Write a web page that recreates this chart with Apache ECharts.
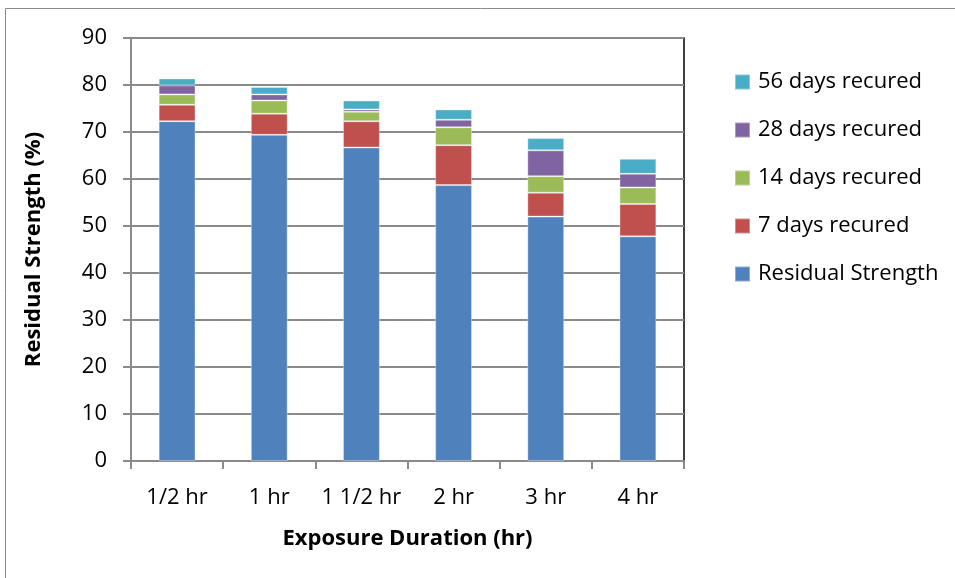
<!DOCTYPE html>
<html>
<head>
<meta charset="utf-8">
<script src="https://cdn.jsdelivr.net/npm/echarts@6/dist/echarts.min.js"></script>
<style>
  html, body { margin: 0; padding: 0; background: #fff; }
  #chart { width: 955px; height: 578px; }
</style>
</head>
<body>
<div id="chart"></div>
<script>
// Exposure duration categories
const categories = ['1/2 hr', '1 hr', '1 1/2 hr', '2 hr', '3 hr', '4 hr'];

// Stacked segments (%): residual strength plus strength regained after recuring
const residualStrength = [72.3, 69.4, 66.7, 58.7, 52.0, 47.8];
const recured7 = [3.5, 4.5, 5.6, 8.5, 5.1, 6.9];
const recured14 = [2.2, 2.8, 2.0, 3.8, 3.5, 3.5];
const recured28 = [1.9, 1.3, 0.5, 1.6, 5.5, 2.9];
const recured56 = [1.5, 1.6, 1.9, 2.2, 2.6, 3.2];

const seriesNames = ['Residual Strength', '7 days recured', '14 days recured', '28 days recured', '56 days recured'];
const seriesColors = ['#4F81BD', '#C0504D', '#9BBB59', '#8064A2', '#4BACC6'];
const seriesValues = [residualStrength, recured7, recured14, recured28, recured56];

const yTicks = { min: 0, max: 90, interval: 10 };

const FONT = '"Open Sans", "Liberation Sans", sans-serif';

const chart = echarts.init(document.getElementById('chart'), null, { renderer: 'canvas' });

chart.setOption({
  animation: false,
  backgroundColor: '#ffffff',
  graphic: [{
    type: 'rect',
    shape: { x: 5.5, y: 8.5, width: 1200, height: 1000 },
    style: { fill: 'none', stroke: '#8a8a8a', lineWidth: 1 },
    silent: true
  }],
  grid: {
    left: 131, right: 271, top: 38, bottom: 117,
    show: true,
    borderColor: '#000000',
    borderWidth: 1.5,
    backgroundColor: 'transparent'
  },
  legend: {
    orient: 'vertical',
    left: 729,
    top: 66,
    itemWidth: 15,
    itemHeight: 15,
    itemGap: 26,
    icon: 'rect',
    data: seriesNames.slice().reverse(),
    textStyle: {
      fontFamily: FONT,
      fontSize: 22,
      lineHeight: 22,
      color: '#000',
      padding: [0, 0, 0, 3]
    }
  },
  xAxis: {
    type: 'category',
    data: categories,
    name: 'Exposure Duration (hr)',
    nameLocation: 'middle',
    nameGap: 67,
    nameTextStyle: { fontFamily: FONT, fontSize: 22, fontWeight: 'bold', color: '#000' },
    axisLine: { lineStyle: { color: '#8a8a8a', width: 2 } },
    axisTick: { show: true, interval: 0, length: 8, lineStyle: { color: '#8a8a8a', width: 2 } },
    axisLabel: { interval: 0, fontFamily: FONT, fontSize: 22, color: '#000', margin: 26 }
  },
  yAxis: {
    type: 'value',
    min: yTicks.min,
    max: yTicks.max,
    interval: yTicks.interval,
    name: 'Residual Strength (%)',
    nameLocation: 'middle',
    nameGap: 86,
    nameTextStyle: { fontFamily: FONT, fontSize: 22, fontWeight: 'bold', color: '#000' },
    axisLine: { show: true, lineStyle: { color: '#8a8a8a', width: 2 } },
    axisTick: { show: true, length: 8, lineStyle: { color: '#8a8a8a', width: 2 } },
    axisLabel: { fontFamily: FONT, fontSize: 22, color: '#000', margin: 24 },
    splitLine: { show: true, lineStyle: { color: '#8a8a8a', width: 2 } }
  },
  series: seriesNames.map((name, i) => ({
    name: name,
    type: 'bar',
    stack: 'strength',
    barWidth: '40%',
    data: seriesValues[i],
    itemStyle: {
      color: seriesColors[i],
      borderColor: 'rgba(255,255,255,0.35)',
      borderWidth: 1
    }
  }))
});
</script>
</body>
</html>
